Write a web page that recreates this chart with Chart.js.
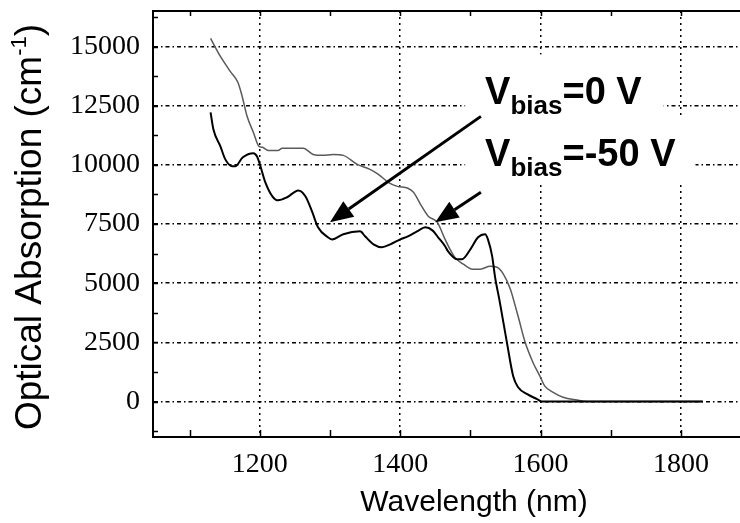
<!DOCTYPE html>
<html>
<head>
<meta charset="utf-8">
<script src="https://cdn.jsdelivr.net/npm/chart.js@4.4.0/dist/chart.umd.min.js"></script>
<style>
html, body { margin: 0; padding: 0; background: #fff; }
</style>
</head>
<body>
<canvas id="canvas" width="740" height="523"></canvas>
<script>
// Vbias = 0 V (black curve)
var wl0V = [1130, 1134, 1144, 1151, 1161, 1165, 1176, 1191, 1196, 1201, 1208, 1218, 1226, 1239, 1255, 1265,
	1275, 1283, 1297, 1303, 1319, 1343, 1350, 1362, 1374, 1386, 1400, 1411, 1424, 1436, 1446, 1454,
	1464, 1468, 1481, 1488, 1500, 1511, 1521, 1525, 1531, 1535, 1542, 1552, 1561, 1568, 1581, 1595,
	1602, 1831];
var abs0V = [12220, 11500, 10780, 10230, 9940, 9940, 10320, 10490, 10360, 9940, 9260, 8670, 8500, 8630, 8920, 8670,
	7990, 7360, 6940, 6850, 7070, 7190, 6980, 6640, 6520, 6640, 6850, 6980, 7190, 7360, 7230, 6940,
	6560, 6350, 6010, 6010, 6430, 6940, 7070, 6850, 6140, 5290, 4190, 2500, 1070, 600, 310, 100,
	0, 0];

// Vbias = -50 V (grey curve)
var wl50V = [1130, 1144, 1158, 1169, 1175, 1182, 1191, 1199, 1204, 1212, 1226, 1232, 1262, 1276, 1289, 1305,
	1319, 1339, 1357, 1369, 1383, 1396, 1411, 1419, 1429, 1440, 1453, 1464, 1471, 1478, 1490, 1503,
	1514, 1528, 1538, 1547, 1557, 1564, 1568, 1578, 1589, 1599, 1606, 1618, 1632, 1652, 1666, 1831];
var abs50V = [15340, 14580, 13950, 13480, 12890, 12050, 11370, 10780, 10740, 10610, 10610, 10700, 10700, 10440, 10400, 10440,
	10400, 10020, 9810, 9600, 9260, 9090, 9010, 8840, 8330, 7830, 7570, 6850, 6430, 6090, 5800, 5590,
	5590, 5710, 5670, 5380, 4740, 4030, 3600, 2500, 1660, 1070, 650, 390, 180, 60, 0, 0];

var xTicks = [1200, 1400, 1600, 1800];
var yTicks = [0, 2500, 5000, 7500, 10000, 12500, 15000];

function points(xs, ys) {
	return xs.map(function(x, i) { return {x: x, y: ys[i]}; });
}

function drawArrow(ctx, x0, y0, x1, y1) {
	var ang = Math.atan2(y1 - y0, x1 - x0);
	var hl = 23, hw = 9.5;
	var bx = x1 - hl * Math.cos(ang), by = y1 - hl * Math.sin(ang);
	ctx.beginPath();
	ctx.moveTo(x0, y0);
	ctx.lineTo(bx, by);
	ctx.stroke();
	ctx.beginPath();
	ctx.moveTo(x1, y1);
	ctx.lineTo(bx + hw * Math.sin(ang), by - hw * Math.cos(ang));
	ctx.lineTo(bx - hw * Math.sin(ang), by + hw * Math.cos(ang));
	ctx.closePath();
	ctx.fill();
}

function labelWidth(ctx, tail) {
	ctx.font = 'bold 38px "Liberation Sans", Arial';
	var w = ctx.measureText('V').width + ctx.measureText(tail).width;
	ctx.font = 'bold 26px "Liberation Sans", Arial';
	return w + ctx.measureText('bias').width;
}

function drawLabel(ctx, x, y, tail) {
	ctx.textAlign = 'left';
	ctx.textBaseline = 'alphabetic';
	ctx.font = 'bold 38px "Liberation Sans", Arial';
	ctx.fillText('V', x, y);
	x += ctx.measureText('V').width;
	ctx.font = 'bold 26px "Liberation Sans", Arial';
	ctx.fillText('bias', x, y + 10);
	x += ctx.measureText('bias').width;
	ctx.font = 'bold 38px "Liberation Sans", Arial';
	ctx.fillText(tail, x, y);
}

var decorations = {
	id: 'decorations',
	afterDatasetsDraw: function(chart) {
		var ctx = chart.ctx, a = chart.chartArea;
		var xs = chart.scales.x, ys = chart.scales.y;
		ctx.save();

		// frame top line and inner ticks
		ctx.strokeStyle = '#000';
		ctx.lineWidth = 2;
		ctx.beginPath();
		ctx.moveTo(a.left, a.top);
		ctx.lineTo(a.right, a.top);
		ctx.stroke();
		ctx.lineWidth = 1.5;
		ctx.beginPath();
		for (var v = 1100; v <= 1800; v += 100) {
			var px = Math.round(xs.getPixelForValue(v)) + 0.5;
			ctx.moveTo(px, a.bottom);
			ctx.lineTo(px, a.bottom - 7);
			ctx.moveTo(px, a.top);
			ctx.lineTo(px, a.top + 5);
		}
		for (var w = -1250; w <= 16250; w += 1250) {
			var py = Math.round(ys.getPixelForValue(w)) + 0.5;
			ctx.moveTo(a.left, py);
			ctx.lineTo(a.left + 5, py);
		}
		ctx.stroke();

		// labels with white boxes
		var lx = xs.getPixelForValue(1521);
		var l1 = ys.getPixelForValue(12555), l2 = ys.getPixelForValue(9937);
		var w1 = labelWidth(ctx, '=0 V'), w2 = labelWidth(ctx, '=-50 V');
		ctx.fillStyle = '#fff';
		ctx.fillRect(lx - 20, l1 - 50, w1 + 42, 62);
		ctx.fillRect(lx - 20, l2 - 50, w2 + 40, 66);
		ctx.fillStyle = '#000';
		drawLabel(ctx, lx, l1, '=0 V');
		drawLabel(ctx, lx, l2, '=-50 V');

		// arrows
		ctx.lineWidth = 3;
		ctx.strokeStyle = '#000';
		drawArrow(ctx, xs.getPixelForValue(1515), ys.getPixelForValue(12048), xs.getPixelForValue(1300), ys.getPixelForValue(7572));
		drawArrow(ctx, xs.getPixelForValue(1515), ys.getPixelForValue(8839), xs.getPixelForValue(1450), ys.getPixelForValue(7572));

		// axis titles
		ctx.textBaseline = 'middle';
		ctx.textAlign = 'center';
		ctx.font = '30px "Liberation Sans", Arial';
		ctx.fillText('Wavelength (nm)', 474, 503);

		ctx.translate(31, (a.top + a.bottom) / 2 + 3);
		ctx.rotate(-Math.PI / 2);
		var main = 'Optical Absorption (cm', sup = '-1', end = ')';
		ctx.font = '37px "Liberation Sans", Arial';
		var wm = ctx.measureText(main).width, we = ctx.measureText(end).width;
		ctx.font = '22px "Liberation Sans", Arial';
		var wsu = ctx.measureText(sup).width;
		var sx = -(wm + wsu + we) / 2;
		ctx.textAlign = 'left';
		ctx.font = '37px "Liberation Sans", Arial';
		ctx.fillText(main, sx, 0);
		ctx.font = '22px "Liberation Sans", Arial';
		ctx.fillText(sup, sx + wm, -11);
		ctx.font = '37px "Liberation Sans", Arial';
		ctx.fillText(end, sx + wm + wsu, 0);
		ctx.restore();
	}
};

window.onload = function() {
	var ctx = document.getElementById('canvas').getContext('2d');
	window.myChart = new Chart(ctx, {
		type: 'scatter',
		data: {
			datasets: [{
				label: 'Vbias=0 V',
				data: points(wl0V, abs0V),
				showLine: true,
				borderColor: '#000',
				borderWidth: 2,
				pointRadius: 0,
				cubicInterpolationMode: 'monotone'
			}, {
				label: 'Vbias=-50 V',
				data: points(wl50V, abs50V),
				showLine: true,
				borderColor: '#5a5a5a',
				borderWidth: 1.5,
				pointRadius: 0,
				cubicInterpolationMode: 'monotone'
			}]
		},
		options: {
			responsive: false,
			animation: false,
			devicePixelRatio: 1,
			layout: { padding: { top: 11, right: 0, left: 0, bottom: 0 } },
			plugins: {
				legend: { display: false },
				tooltip: { enabled: false }
			},
			scales: {
				x: {
					type: 'linear',
					min: 1048,
					max: 1884,
					afterBuildTicks: function(s) { s.ticks = xTicks.map(function(v) { return {value: v}; }); },
					afterFit: function(s) { s.height = 86; s.paddingLeft = 0; s.paddingRight = 0; },
					grid: { color: '#000', lineWidth: 1.5, drawTicks: false },
					border: { display: true, color: '#000', width: 2, dash: [2, 4] },
					ticks: {
						color: '#000',
						padding: 11,
						maxRotation: 0,
						font: { family: '"Liberation Serif", "Times New Roman"', size: 28 },
						callback: function(v) { return String(v); }
					}
				},
				y: {
					min: -1500,
					max: 16500,
					afterBuildTicks: function(s) { s.ticks = yTicks.map(function(v) { return {value: v}; }); },
					afterFit: function(s) { s.width = 153; s.paddingTop = 0; s.paddingBottom = 0; },
					grid: { color: '#000', lineWidth: 1.5, drawTicks: false },
					border: { display: true, color: '#000', width: 2, dash: [4, 3, 1.5, 3] },
					ticks: {
						color: '#000',
						padding: 13,
						font: { family: '"Liberation Serif", "Times New Roman"', size: 28 },
						callback: function(v) { return String(v); }
					}
				}
			}
		},
		plugins: [decorations]
	});
};
</script>
</body>
</html>
